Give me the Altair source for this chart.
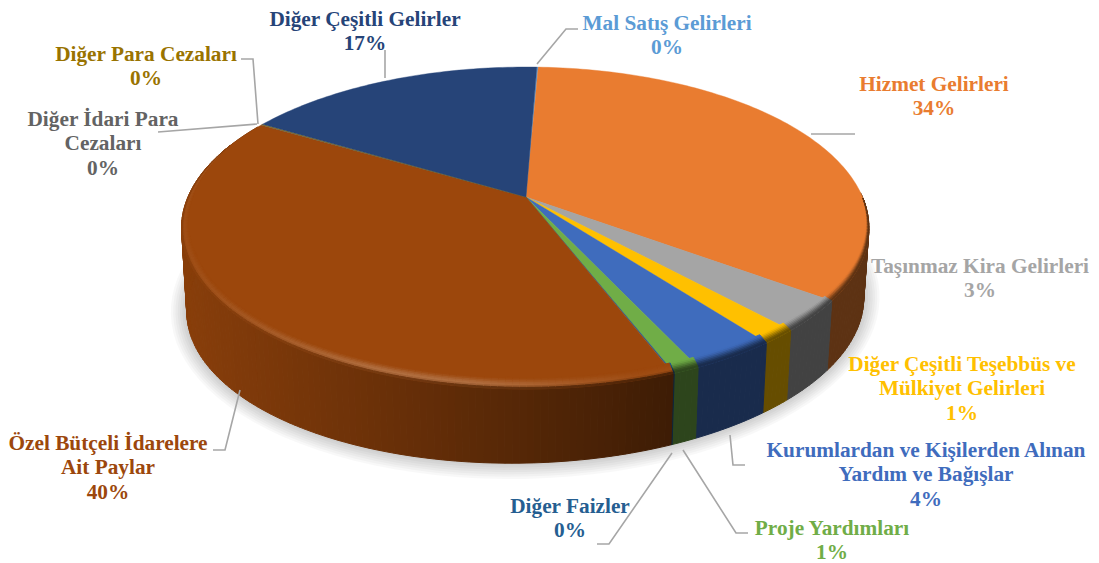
import math
import altair as alt
import pandas as pd

names = ["Mal Satış Gelirleri", "Hizmet Gelirleri", "Taşınmaz Kira Gelirleri",
         "Diğer Çeşitli Teşebbüs ve Mülkiyet Gelirleri", "Kurumlardan ve Kişilerden Alınan Yardım ve Bağışlar",
         "Proje Yardımları", "Diğer Faizler", "Özel Bütçeli İdarelere Ait Paylar",
         "Diğer İdari Para Cezaları", "Diğer Para Cezaları", "Diğer Çeşitli Gelirler"]
shares = [0.08, 34.42, 3.1, 1.45, 3.4, 1.05, 0.05, 39.35, 0.05, 0.05, 17.0]
colors = ["#5B9BD5", "#E97C30", "#A5A5A5", "#FFC000", "#3F6CBD", "#70AD47",
          "#255E91", "#9C470C", "#636363", "#997300", "#264478"]
pct_labels = ["0%", "34%", "3%", "1%", "4%", "1%", "0%", "40%", "0%", "0%", "17%"]
label_lines = [["Mal Satış Gelirleri"], ["Hizmet Gelirleri"], ["Taşınmaz Kira Gelirleri"],
               ["Diğer Çeşitli Teşebbüs ve", "Mülkiyet Gelirleri"],
               ["Kurumlardan ve Kişilerden Alınan", "Yardım ve Bağışlar"], ["Proje Yardımları"],
               ["Diğer Faizler"], ["Özel Bütçeli İdarelere", "Ait Paylar"],
               ["Diğer İdari Para", "Cezaları"], ["Diğer Para Cezaları"], ["Diğer Çeşitli Gelirler"]]

# layout, in picture pixels
label_anchor = [(667, 24), (934, 85), (980, 267), (962, 365), (926, 451), (832, 529),
                (570, 507), (108, 444), (103, 120), (146, 55), (365, 20)]
line_step = 24.3
leaders = [[(537, 64), (566, 29), (578, 29)], [(811, 134), (855, 134)], [], [],
           [(730, 435), (733, 465), (745, 465)], [(683, 450), (736, 533), (748, 533)],
           [(672, 453), (609, 544), (597, 544)], [(213, 450), (225, 450), (240, 390)],
           [(158, 132), (257, 124)], [(241, 59), (253, 59), (258, 124)], [(385, 50), (385, 78)]]
CX, AY, A_RIGHT, A_LEFT, B, P = 526, 197, 336.5, 338.0, 155.0, 0.1925
DEPTH, LOW, TILT = 77, 0.985, 0.02
START = 87.8
MIDY = 228


def rim(t, scale=1.0, dy=0.0):
    c, s = math.cos(t), math.sin(t)
    d = 1 + P * s
    a = A_RIGHT if c >= 0 else A_LEFT
    return CX + scale * a * c / d, AY + dy - scale * B * s / d


def low(t):
    x, y = rim(t, LOW, DEPTH)
    return x, y - TILT * (x - CX)


def mix(a, b, f):
    ca = [int(a[i:i + 2], 16) for i in (1, 3, 5)]
    cb = [int(b[i:i + 2], 16) for i in (1, 3, 5)]
    return "#%02x%02x%02x" % tuple(round(x + (y - x) * f) for x, y in zip(ca, cb))


def wall_factor(x):
    return max(0.40, min(0.87, 0.87 - (x - 185) / 485 * 0.47))


def smooth(f):
    return f * f * (3 - 2 * f)


spans = []
ang = START
for v in shares:
    nxt = ang - v * 3.6
    spans.append((ang, nxt))
    ang = nxt

top, wall, band, shadow = [], [], [], []
for k, (a0, a1) in enumerate(spans):
    base = colors[k]
    n = max(2, int((a0 - a1) / 1.0) + 1)
    ts = [math.radians(a0 + (a1 - a0) * i / n) for i in range(n + 1)]
    poly = [(CX, AY)] + [rim(t) for t in ts]
    for i, (x, y) in enumerate(poly):
        top.append(dict(id=f"s{k:02d}", i=i, x=x, y=y, fill=base))
    for j in range(n):
        t0, t1 = ts[j], ts[j + 1]
        tm = (t0 + t1) / 2
        s_m, c_m = math.sin(tm), math.cos(tm)
        if s_m > (0.5 if c_m < 0 else 0.02):
            continue
        xm, _ = rim(tm)
        w_col = mix("#000000", base, wall_factor(xm))
        q = [rim(t0), rim(t1), low(t1), low(t0)]
        sid = f"w{k:02d}{j:04d}"
        for i, (x, y) in enumerate(q):
            wall.append(dict(id=sid, i=i, x=x, y=y, fill=w_col))
        # bevel at the rim of the top surface
        limit = 0.35 if c_m < 0 else 0.0
        width = min(1.0, max(0.0, (limit - s_m) / 0.7))
        if width <= 0:
            continue
        if k == 7:
            glow = 0.34 * max(0.0, min(1.0, (xm - 175) / 200)) * max(0.0, min(1.0, (640 - xm) / 170)) + 0.06
        else:
            glow = 0.0
        steps = 7
        for r in range(steps):
            f0, f1 = r / steps, (r + 1) / steps
            fm = (f0 + f1) / 2

            def inner(t, f):
                x, y = rim(t)
                ex = 1 - (1 - f) * 0.028 * width
                ey = 1 - (1 - f) * 0.07 * width
                return CX + (x - CX) * ex, MIDY + (y - MIDY) * ey

            if glow > 0:
                if fm < 0.7:
                    col = mix(base, "#ffffff", glow * 0.55 * smooth(fm / 0.7))
                else:
                    col = mix(mix(base, "#ffffff", glow * 0.55), w_col, smooth((fm - 0.7) / 0.3))
            else:
                col = mix(base, w_col, smooth(fm))
            qq = [inner(t0, f0), inner(t1, f0), inner(t1, f1), inner(t0, f1)]
            bid = f"b{k:02d}{j:04d}{r}"
            for i, (x, y) in enumerate(qq):
                band.append(dict(id=bid, i=i, x=x, y=y, fill=col))

for g in range(7):
    sid = f"h{g}"
    grow = 16 - g * 2.3
    for i in range(0, 360, 3):
        x, y = low(math.radians(i))
        cy = AY + DEPTH + 31
        x2 = CX + (x - CX) * (1 + grow / 340)
        y2 = cy + (y - cy) * (1 + grow / 160)
        shadow.append(dict(id=sid, i=i, x=x2, y=y2, fill="#000000"))

X = alt.X("x:Q", scale=alt.Scale(domain=[8, 1091], range=[0, 1083], nice=False, zero=False), axis=None)
Y = alt.Y("y:Q", scale=alt.Scale(domain=[8, 563], range=[0, 555], nice=False, zero=False), axis=None)


def polys(rows, stroke=1.0):
    return alt.Chart(pd.DataFrame(rows)).mark_line(
        interpolate="linear-closed", strokeWidth=stroke
    ).encode(
        x=X, y=Y, detail="id:N", order="i:Q",
        fill=alt.Fill("fill:N", scale=None),
        stroke=alt.Stroke("fill:N", scale=None),
    )


shadow_layer = alt.Chart(pd.DataFrame(shadow)).mark_line(
    interpolate="linear-closed", strokeWidth=0, opacity=0.028
).encode(x=X, y=Y, detail="id:N", order="i:Q", fill=alt.Fill("fill:N", scale=None))

lead_rows = []
for k, pts in enumerate(leaders):
    for i, (x, y) in enumerate(pts):
        lead_rows.append(dict(id=k, i=i, x=x, y=y))
leader_layer = alt.Chart(pd.DataFrame(lead_rows)).mark_line(
    color="#A6A6A6", strokeWidth=1.6
).encode(x=X, y=Y, detail="id:N", order="i:Q")

text_rows = []
for k, lines in enumerate(label_lines):
    ax, ay = label_anchor[k]
    for j, ln in enumerate(lines + [pct_labels[k]]):
        text_rows.append(dict(x=ax, y=ay + j * line_step, t=ln, c=colors[k]))
text_layer = alt.Chart(pd.DataFrame(text_rows)).mark_text(
    font="Liberation Serif", fontWeight="bold", fontSize=21.3, baseline="middle", align="center"
).encode(x=X, y=Y, text="t:N", color=alt.Color("c:N", scale=None))

chart = alt.layer(
    shadow_layer, polys(wall), polys(top, 0.4), polys(band), leader_layer, text_layer
).properties(width=1083, height=555, padding=0, autosize=alt.AutoSizeParams(type="none")
).configure_view(stroke=None)

chart.save("out.html", embed_options={"renderer": "svg", "actions": False})
